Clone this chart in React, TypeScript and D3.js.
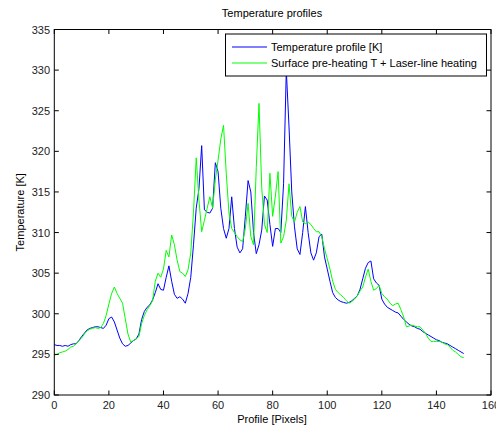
import React from "react";
import * as d3 from "d3";

const blueValues = [296.2,296.1,296.1,296.0,296.1,296.0,296.2,296.3,296.3,296.7,297.2,297.6,298.0,298.2,298.3,298.4,298.4,298.3,298.2,298.6,299.4,299.6,299.0,298.0,297.0,296.3,296.0,296.1,296.4,296.7,296.9,297.5,299.3,300.3,300.8,301.1,301.7,302.6,303.7,303.0,302.9,304.5,305.9,304.0,302.4,301.9,302.1,301.8,301.3,302.5,304.5,308.5,313.0,315.4,320.7,312.8,312.5,312.4,313.0,318.6,317.5,313.0,310.5,309.3,310.5,314.4,310.5,308.2,307.5,308.0,312.0,316.4,315.0,310.0,307.4,308.5,310.3,314.5,314.0,311.0,308.3,310.5,310.5,310.0,316.0,330.0,323.0,315.0,310.7,308.0,307.3,310.0,313.2,310.0,307.5,306.6,307.5,309.5,309.8,307.0,305.5,304.0,302.6,302.0,301.7,301.5,301.4,301.3,301.4,301.6,301.9,302.2,303.0,304.3,305.6,306.3,306.5,304.3,303.8,303.5,301.8,301.2,300.8,300.6,300.4,300.2,300.1,299.7,299.3,299.0,298.7,298.5,298.4,298.2,298.1,297.8,297.6,297.4,297.2,297.0,296.8,296.7,296.5,296.4,296.3,296.1,295.9,295.7,295.5,295.3,295.1];

const greenValues = [294.9,295.0,295.2,295.3,295.4,295.6,295.9,296.0,296.3,296.7,297.0,297.5,297.9,298.1,298.2,298.3,298.2,298.3,298.8,299.8,301.2,302.5,303.3,302.5,301.9,301.3,299.4,297.5,296.5,296.7,296.9,297.2,298.8,299.8,300.5,301.0,301.6,304.0,305.0,304.5,305.5,307.8,307.0,309.7,308.5,306.6,305.2,305.0,304.6,305.4,307.5,312.5,319.2,314.0,310.1,311.5,313.0,314.4,313.0,316.5,318.9,321.5,323.2,317.3,312.4,310.5,310.0,309.5,309.1,308.9,310.5,313.6,309.5,308.5,318.0,325.9,315.5,311.0,310.0,317.3,312.0,314.5,317.5,308.7,309.5,311.5,316.0,312.0,311.3,312.5,313.2,311.3,311.1,311.3,311.0,310.5,310.1,310.1,309.5,308.0,306.8,305.5,304.0,303.0,302.6,302.3,302.0,301.6,301.3,301.5,301.8,302.2,302.8,303.3,304.5,305.5,304.0,302.9,303.1,303.5,302.5,302.1,301.8,301.3,301.0,301.2,301.3,300.5,299.6,298.4,298.5,298.6,298.5,298.4,298.4,298.0,297.6,297.0,296.6,296.6,296.6,296.6,296.5,296.3,296.2,295.9,295.5,295.3,295.0,294.7,294.6];

const xTicks = [0, 20, 40, 60, 80, 100, 120, 140, 160];
const yTicks = [290, 295, 300, 305, 310, 315, 320, 325, 330, 335];
const seriesNames = ["Temperature profile [K]", "Surface pre-heating T + Laser-line heating"];
const seriesColors = ["#0000ff", "#00ff00"];

const W = 496, H = 430;
const L = 54.3, R = 491, T = 29.5, B = 395;
const font = "'Liberation Sans', Arial, sans-serif";

export default function App() {
  const x = d3.scaleLinear().domain([0, 160]).range([L, R]);
  const y = d3.scaleLinear().domain([290, 335]).range([B, T]);
  const line = d3.line<number>().x((_, i) => x(i)).y((v) => y(v));
  const tl = 4.5;
  return (
    <svg width={W} height={H} style={{ position: "absolute", left: 0, top: 0, background: "#fff" }} fontFamily={font}>
      <rect x={0} y={0} width={W} height={H} fill="#fff" />
      <path d={line(blueValues) || ""} fill="none" stroke={seriesColors[0]} strokeWidth={1} />
      <path d={line(greenValues) || ""} fill="none" stroke={seriesColors[1]} strokeWidth={1} />
      <rect x={L} y={T} width={R - L} height={B - T} fill="none" stroke="#000" strokeWidth={1} />
      {xTicks.map((t) => (
        <g key={"x" + t}>
          <line x1={x(t)} x2={x(t)} y1={B} y2={B - tl} stroke="#000" />
          <line x1={x(t)} x2={x(t)} y1={T} y2={T + tl} stroke="#000" />
          <text x={x(t)} y={409} fontSize={11} textAnchor="middle" fill="#222">{t}</text>
        </g>
      ))}
      {yTicks.map((t) => (
        <g key={"y" + t}>
          <line x1={L} x2={L + tl} y1={y(t)} y2={y(t)} stroke="#000" />
          <line x1={R} x2={R - tl} y1={y(t)} y2={y(t)} stroke="#000" />
          <text x={50} y={y(t) + 4} fontSize={11} textAnchor="end" fill="#222">{t}</text>
        </g>
      ))}
      <text x={272} y={17} fontSize={11} textAnchor="middle" fill="#000">Temperature profiles</text>
      <text x={272} y={423} fontSize={11} textAnchor="middle" fill="#000">Profile [Pixels]</text>
      <text transform={`translate(24,${(T + B) / 2}) rotate(-90)`} fontSize={11} textAnchor="middle" fill="#000">Temperature [K]</text>
      <rect x={225.5} y={34} width={261} height={42} fill="#fff" stroke="#000" strokeWidth={1} />
      {seriesNames.map((n, i) => (
        <g key={n}>
          <line x1={232} x2={267} y1={47 + i * 16} y2={47 + i * 16} stroke={seriesColors[i]} strokeWidth={1} />
          <text x={271} y={51 + i * 16} fontSize={11} fill="#000">{n}</text>
        </g>
      ))}
    </svg>
  );
}
